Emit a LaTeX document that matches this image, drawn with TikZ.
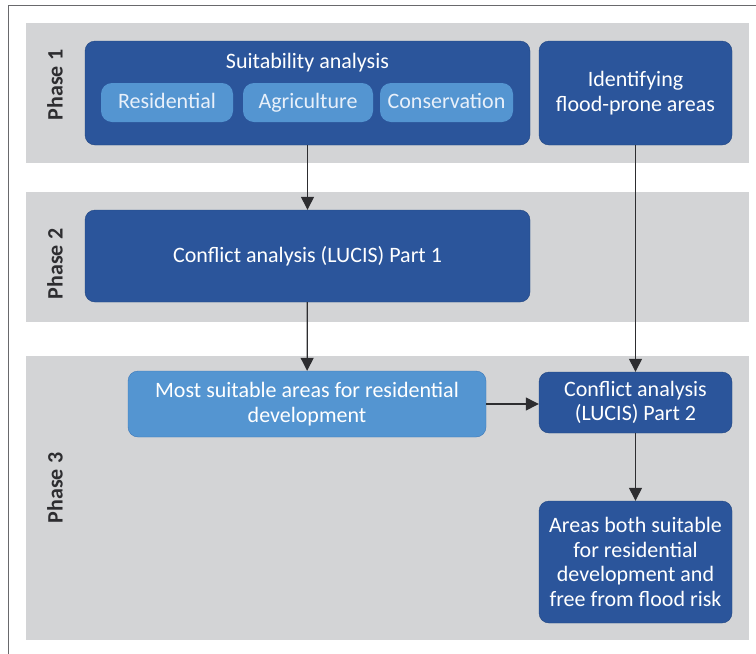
\documentclass[tikz,border=0pt]{standalone}
\usepackage{fontspec}
\setmainfont{Carlito}
\usetikzlibrary{positioning, arrows.meta}
\definecolor{deepblue}{RGB}{43,85,155}
\definecolor{deepline}{RGB}{33,70,130}
\definecolor{paleblue}{RGB}{84,149,209}
\definecolor{paleline}{RGB}{60,120,185}
\definecolor{paletext}{RGB}{232,240,250}
\definecolor{bandgrey}{RGB}{211,212,214}
\definecolor{framegrey}{RGB}{105,105,108}
\definecolor{arrowink}{RGB}{45,45,48}

\begin{document}
\begin{tikzpicture}[
  x=1pt, y=1pt,
  band/.style={fill=bandgrey, draw=none},
  phase/.style={font=\fontsize{22}{24}\selectfont\bfseries, text=arrowink, rotate=90, inner sep=0pt},
  dbox/.style={draw=deepline, fill=deepblue, rounded corners=10pt, text=white, align=center,
               font=\fontsize{22}{24.5}\selectfont, inner sep=2pt},
  lbox/.style={dbox, draw=paleline, fill=paleblue},
  sbox/.style={lbox, draw=none, text=paletext, minimum height=39pt, rounded corners=11pt,
               text height=15pt, text depth=4pt},
  txt/.style={font=\fontsize{22}{24.5}\selectfont, text=white, inner sep=0pt},
  flow/.style={-{Triangle[length=13pt, width=13pt]}, draw=arrowink, line width=1.3pt}]
  \useasboundingbox (0,0) rectangle (756,-654);
  % frame and phase bands
  \draw[framegrey, line width=1pt] (756,-5) -- (8,-5) -- (8,-654);
  \fill[band] (26,-23) rectangle (749,-163);
  \fill[band] (26,-192) rectangle (749,-322);
  \fill[band] (26,-356) rectangle (749,-640);
  \node[phase] (p1) at (55,-85)  {Phase 1};
  \node[phase] (p2) at (55,-264) {Phase 2};
  \node[phase] (p3) at (55,-488) {Phase 3};
  % phase 1
  \node[dbox, minimum width=445pt, minimum height=104pt] (suit) at (307.5,-93) {};
  \node[txt] (suittitle) at (307.5,-63) {Suitability analysis};
  \node[sbox, minimum width=132pt] (resid) at (167,-102.5)   {Residential};
  \node[sbox, minimum width=130pt] (agri)  at (308,-102.5)   {Agriculture};
  \node[sbox, minimum width=133pt] (cons)  at (446.5,-102.5) {Conservation};
  \node[dbox, minimum width=193pt, minimum height=104pt] (ident) at (635.5,-93)
    {Identifying\\flood-prone areas};
  % phase 2
  \node[dbox, minimum width=445pt, minimum height=92pt] (conf1) at (307.5,-256)
    {Conflict analysis (LUCIS) Part 1};
  % phase 3
  \node[lbox, minimum width=358pt, minimum height=66pt] (most) at (307,-404)
    {Most suitable areas for residential\\development};
  \node[dbox, minimum width=193pt, minimum height=61pt] (conf2) at (635.5,-402.5)
    {Conflict analysis\\(LUCIS) Part 2};
  \node[dbox, minimum width=193pt, minimum height=122pt] (areas) at (635.5,-562)
    {Areas both suitable\\for residential\\development and\\free from flood risk};
  \draw[flow] (suit) -- (conf1);
  \draw[flow] (conf1) -- (most);
  \draw[flow] (ident) -- (conf2);
  \draw[flow] (most.east) -- (most.east -| conf2.west);
  \draw[flow] (conf2) -- (areas);
\end{tikzpicture}
\end{document}
